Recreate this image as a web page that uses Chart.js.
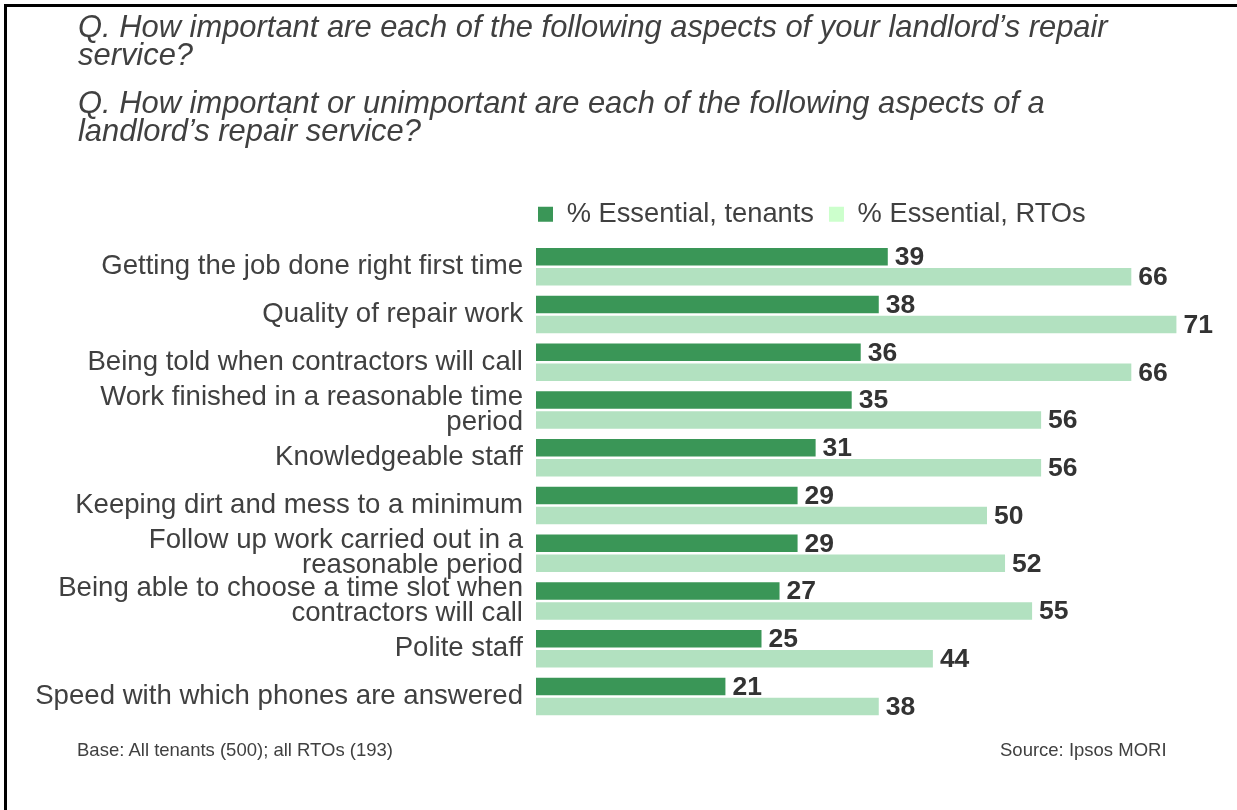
<!DOCTYPE html>
<html>
<head>
<meta charset="utf-8">
<script src="https://cdn.jsdelivr.net/npm/chart.js@4/dist/chart.umd.min.js"></script>
<style>
html,body{margin:0;padding:0;background:#fff;}
body{width:1237px;height:810px;position:relative;overflow:hidden;font-family:"Liberation Sans",Arial,sans-serif;}
#frameTop{position:absolute;left:4px;top:4px;width:1233px;height:3px;background:#000;}
#frameLeft{position:absolute;left:4px;top:4px;width:3px;height:806px;background:#000;}
.q{position:absolute;left:78px;font-style:italic;font-size:30.9px;line-height:28px;color:#404040;white-space:nowrap;}
.foot{position:absolute;top:740px;font-size:18.5px;line-height:20px;color:#404040;white-space:nowrap;}
#c{position:absolute;left:0;top:0;}
</style>
</head>
<body>
<canvas id="c" width="1237" height="810"></canvas>
<div id="frameTop"></div>
<div id="frameLeft"></div>
<div class="q" style="top:13px;">Q. How important are each of the following aspects of your landlord’s repair<br>service?</div>
<div class="q" style="top:89px;">Q. How important or unimportant are each of the following aspects of a<br>landlord’s repair service?</div>
<div class="foot" style="left:77px;">Base: All tenants (500); all RTOs (193)</div>
<div class="foot" style="left:1000px;">Source: Ipsos MORI</div>
<script>
// ---- data ----
const categories = [
  'Getting the job done right first time',
  'Quality of repair work',
  'Being told when contractors will call',
  ['Work finished in a reasonable time', 'period'],
  'Knowledgeable staff',
  'Keeping dirt and mess to a minimum',
  ['Follow up work carried out in a', 'reasonable period'],
  ['Being able to choose a time slot when', 'contractors will call'],
  'Polite staff',
  'Speed with which phones are answered'
];
const seriesNames = ['% Essential, tenants', '% Essential, RTOs'];
const tenants = [39, 38, 36, 35, 31, 29, 29, 27, 25, 21];
const rtos = [66, 71, 66, 56, 56, 50, 52, 55, 44, 38];

// ---- styles ----
const DARK = '#3A9657';
const LIGHT = '#B2E1C0';
const LEGEND_LIGHT = '#CCFFCC';
const FONT = '"Liberation Sans", Arial, sans-serif';

const valueLabels = {
  id: 'valueLabels',
  afterDatasetsDraw(chart) {
    const ctx = chart.ctx;
    ctx.save();
    ctx.font = 'bold 26.5px ' + FONT;
    ctx.fillStyle = '#333333';
    ctx.textAlign = 'left';
    ctx.textBaseline = 'middle';
    chart.data.datasets.forEach((ds, di) => {
      const meta = chart.getDatasetMeta(di);
      meta.data.forEach((el, i) => {
        ctx.fillText(String(ds.data[i]), el.x + 7, el.y + 1);
      });
    });
    ctx.restore();
  }
};

const legendPlace = {
  id: 'legendPlace',
  afterLayout(chart) {
    const lg = chart.legend;
    if (!lg) return;
    lg.left = chart.chartArea.left - 13;
    lg.top -= 5;
    lg.bottom -= 5;
  }
};

new Chart(document.getElementById('c'), {
  type: 'bar',
  data: {
    labels: categories,
    datasets: [
      { label: seriesNames[0], data: tenants, backgroundColor: DARK, borderWidth: 0,
        categoryPercentage: 0.837, barPercentage: 0.875 },
      { label: seriesNames[1], data: rtos, backgroundColor: LIGHT, borderWidth: 0,
        categoryPercentage: 0.837, barPercentage: 0.875 }
    ]
  },
  plugins: [valueLabels, legendPlace],
  options: {
    indexAxis: 'y',
    responsive: false,
    devicePixelRatio: 1,
    animation: false,
    layout: { padding: { top: 190.6, left: 0, right: 24.5, bottom: 89.6 } },
    scales: {
      x: { display: false, min: 0, max: 75 },
      y: {
        grid: { display: false, drawTicks: false },
        border: { display: false },
        ticks: {
          autoSkip: false,
          padding: 13,
          color: '#404040',
          font: { family: FONT, size: 27.6, lineHeight: 0.906 }
        },
        afterFit(scale) { scale.width = 536; }
      }
    },
    plugins: {
      tooltip: { enabled: false },
      legend: {
        position: 'top',
        align: 'start',
        labels: {
          boxWidth: 15,
          boxHeight: 15,
          padding: 15,
          color: '#404040',
          font: { family: FONT, size: 27.3 },
          generateLabels(chart) {
            const cols = [DARK, LEGEND_LIGHT];
            return chart.data.datasets.map((ds, i) => ({
              text: ds.label,
              fillStyle: cols[i],
              strokeStyle: cols[i],
              lineWidth: 0,
              hidden: false,
              datasetIndex: i,
              fontColor: '#404040'
            }));
          }
        }
      }
    }
  }
});
</script>
</body>
</html>
